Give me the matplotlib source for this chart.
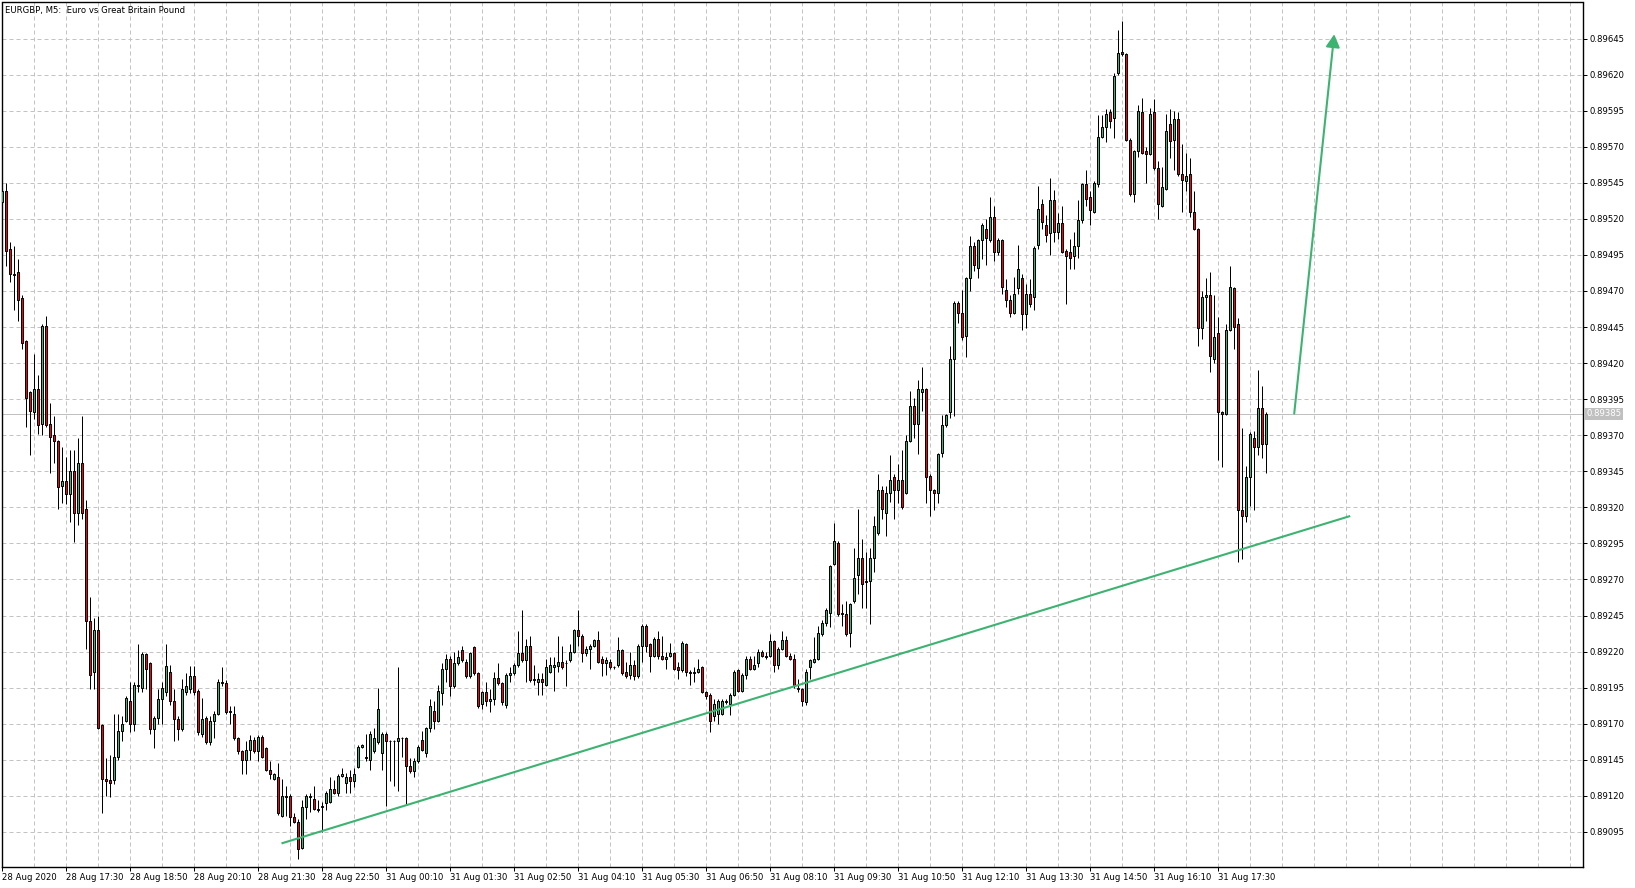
import matplotlib
matplotlib.use("Agg")
import matplotlib.pyplot as plt
import matplotlib.transforms as mtransforms
import numpy as np

W, H, DPI = 1635, 888, 100

title = "EURGBP, M5:  Euro vs Great Britain Pound"
time_labels = ["28 Aug 2020", "28 Aug 17:30", "28 Aug 18:50", "28 Aug 20:10", "28 Aug 21:30",
               "28 Aug 22:50", "31 Aug 00:10", "31 Aug 01:30", "31 Aug 02:50", "31 Aug 04:10",
               "31 Aug 05:30", "31 Aug 06:50", "31 Aug 08:10", "31 Aug 09:30", "31 Aug 10:50",
               "31 Aug 12:10", "31 Aug 13:30", "31 Aug 14:50", "31 Aug 16:10", "31 Aug 17:30"]
price_ticks = [0.89095, 0.89120, 0.89145, 0.89170, 0.89195, 0.89220, 0.89245, 0.89270, 0.89295,
               0.89320, 0.89345, 0.89370, 0.89395, 0.89420, 0.89445, 0.89470, 0.89495, 0.89520,
               0.89545, 0.89570, 0.89595, 0.89620, 0.89645]
current_price = 0.89385

opens = [
0.89532,0.89539,0.89499,0.89482,0.89483,0.89465,0.89435,0.89400,0.89386,0.89402,0.89378,0.89446,0.89378,0.89370,0.89366,0.89335,
0.89338,0.89329,0.89345,0.89316,0.89351,0.89319,0.89241,0.89206,0.89235,0.89169,0.89132,0.89131,0.89131,0.89147,0.89165,0.89172,
0.89186,0.89170,0.89196,0.89195,0.89218,0.89212,0.89166,0.89174,0.89187,0.89192,0.89206,0.89186,0.89173,0.89166,0.89192,0.89194,
0.89203,0.89193,0.89163,0.89174,0.89157,0.89172,0.89177,0.89199,0.89198,0.89178,0.89177,0.89160,0.89151,0.89145,0.89152,0.89159,
0.89151,0.89161,0.89153,0.89138,0.89132,0.89133,0.89106,0.89120,0.89120,0.89105,0.89102,0.89084,0.89112,0.89119,0.89118,0.89111,
0.89112,0.89115,0.89116,0.89125,0.89122,0.89134,0.89129,0.89133,0.89130,0.89140,0.89154,0.89147,0.89145,0.89151,0.89157,0.89150,
0.89163,0.89158,0.89158,0.89158,0.89160,0.89160,0.89141,0.89137,0.89144,0.89159,0.89150,0.89167,0.89179,0.89172,0.89191,0.89208,
0.89215,0.89196,0.89212,0.89221,0.89213,0.89203,0.89223,0.89205,0.89184,0.89192,0.89186,0.89187,0.89202,0.89198,0.89183,0.89204,
0.89205,0.89211,0.89219,0.89214,0.89224,0.89200,0.89199,0.89201,0.89197,0.89206,0.89209,0.89210,0.89213,0.89212,0.89214,0.89220,
0.89235,0.89231,0.89219,0.89222,0.89224,0.89228,0.89215,0.89212,0.89213,0.89209,0.89211,0.89221,0.89206,0.89204,0.89211,0.89203,
0.89224,0.89238,0.89225,0.89217,0.89229,0.89217,0.89215,0.89217,0.89219,0.89209,0.89207,0.89225,0.89206,0.89205,0.89206,0.89209,
0.89192,0.89190,0.89175,0.89177,0.89177,0.89185,0.89184,0.89190,0.89207,0.89193,0.89204,0.89215,0.89208,0.89212,0.89220,0.89217,
0.89217,0.89227,0.89211,0.89222,0.89228,0.89217,0.89215,0.89195,0.89194,0.89185,0.89209,0.89213,0.89215,0.89232,0.89240,0.89247,
0.89281,0.89295,0.89246,0.89246,0.89233,0.89255,0.89273,0.89285,0.89269,0.89269,0.89285,0.89302,0.89332,0.89316,0.89330,0.89341,
0.89332,0.89339,0.89330,0.89366,0.89390,0.89378,0.89400,0.89402,0.89342,0.89332,0.89330,0.89358,0.89377,0.89386,0.89423,0.89462,
0.89455,0.89439,0.89479,0.89501,0.89486,0.89505,0.89513,0.89505,0.89521,0.89497,0.89505,0.89471,0.89464,0.89455,0.89472,0.89479,
0.89454,0.89468,0.89466,0.89502,0.89530,0.89516,0.89510,0.89533,0.89511,0.89517,0.89498,0.89497,0.89494,0.89501,0.89519,0.89544,
0.89535,0.89525,0.89544,0.89577,0.89584,0.89594,0.89590,0.89621,0.89636,0.89634,0.89575,0.89537,0.89567,0.89594,0.89567,0.89565,
0.89594,0.89555,0.89529,0.89541,0.89586,0.89575,0.89589,0.89551,0.89546,0.89551,0.89525,0.89513,0.89444,0.89466,0.89467,0.89423,
0.89441,0.89386,0.89385,0.89443,0.89472,0.89447,0.89318,0.89314,0.89341,0.89368,0.89362,0.89389,0.89364]

highs = [
0.89539,0.89545,0.89504,0.89501,0.89492,0.89467,0.89436,0.89401,0.89426,0.89412,0.89447,0.89453,0.89392,0.89383,0.89367,0.89362,
0.89355,0.89360,0.89360,0.89368,0.89383,0.89325,0.89258,0.89243,0.89245,0.89170,0.89146,0.89148,0.89177,0.89177,0.89175,0.89189,
0.89199,0.89199,0.89225,0.89220,0.89219,0.89213,0.89175,0.89194,0.89199,0.89225,0.89211,0.89194,0.89175,0.89201,0.89205,0.89210,
0.89210,0.89194,0.89188,0.89175,0.89175,0.89179,0.89201,0.89209,0.89200,0.89182,0.89182,0.89161,0.89152,0.89158,0.89162,0.89161,
0.89162,0.89162,0.89154,0.89144,0.89136,0.89143,0.89132,0.89127,0.89121,0.89108,0.89104,0.89117,0.89121,0.89122,0.89127,0.89117,
0.89116,0.89123,0.89133,0.89131,0.89135,0.89139,0.89136,0.89138,0.89139,0.89155,0.89156,0.89163,0.89165,0.89167,0.89195,0.89164,
0.89164,0.89159,0.89159,0.89209,0.89161,0.89161,0.89146,0.89146,0.89155,0.89165,0.89168,0.89187,0.89186,0.89197,0.89212,0.89218,
0.89217,0.89220,0.89221,0.89224,0.89215,0.89220,0.89224,0.89206,0.89193,0.89199,0.89194,0.89206,0.89212,0.89199,0.89205,0.89209,
0.89212,0.89234,0.89249,0.89229,0.89231,0.89211,0.89205,0.89205,0.89215,0.89216,0.89216,0.89231,0.89224,0.89214,0.89225,0.89236,
0.89249,0.89232,0.89224,0.89225,0.89229,0.89234,0.89217,0.89216,0.89215,0.89210,0.89230,0.89222,0.89213,0.89220,0.89214,0.89225,
0.89239,0.89239,0.89226,0.89230,0.89234,0.89231,0.89220,0.89226,0.89220,0.89213,0.89227,0.89226,0.89207,0.89209,0.89215,0.89210,
0.89193,0.89191,0.89187,0.89187,0.89187,0.89187,0.89191,0.89207,0.89208,0.89205,0.89217,0.89217,0.89217,0.89222,0.89221,0.89220,
0.89232,0.89228,0.89223,0.89234,0.89231,0.89219,0.89218,0.89201,0.89195,0.89208,0.89215,0.89230,0.89238,0.89242,0.89250,0.89280,
0.89309,0.89297,0.89253,0.89255,0.89254,0.89292,0.89319,0.89298,0.89289,0.89292,0.89314,0.89343,0.89335,0.89335,0.89356,0.89343,
0.89350,0.89360,0.89370,0.89401,0.89396,0.89408,0.89417,0.89403,0.89343,0.89333,0.89358,0.89384,0.89385,0.89432,0.89463,0.89463,
0.89471,0.89480,0.89508,0.89504,0.89506,0.89517,0.89520,0.89535,0.89529,0.89507,0.89506,0.89478,0.89467,0.89480,0.89502,0.89482,
0.89475,0.89478,0.89501,0.89543,0.89534,0.89523,0.89548,0.89540,0.89524,0.89529,0.89499,0.89506,0.89511,0.89533,0.89545,0.89554,
0.89539,0.89546,0.89592,0.89592,0.89596,0.89596,0.89621,0.89651,0.89657,0.89635,0.89576,0.89568,0.89599,0.89604,0.89570,0.89597,
0.89603,0.89560,0.89556,0.89593,0.89596,0.89595,0.89594,0.89572,0.89566,0.89562,0.89539,0.89514,0.89470,0.89479,0.89483,0.89467,
0.89452,0.89387,0.89447,0.89487,0.89473,0.89451,0.89375,0.89349,0.89372,0.89373,0.89415,0.89404,0.89386]

lows = [
0.89527,0.89487,0.89476,0.89457,0.89449,0.89430,0.89376,0.89356,0.89381,0.89371,0.89370,0.89376,0.89344,0.89351,0.89319,0.89323,
0.89322,0.89310,0.89296,0.89308,0.89312,0.89222,0.89194,0.89194,0.89166,0.89108,0.89120,0.89119,0.89128,0.89145,0.89158,0.89171,
0.89164,0.89165,0.89192,0.89192,0.89194,0.89163,0.89153,0.89170,0.89170,0.89189,0.89183,0.89158,0.89159,0.89165,0.89190,0.89191,
0.89190,0.89162,0.89161,0.89156,0.89155,0.89160,0.89176,0.89196,0.89177,0.89170,0.89159,0.89149,0.89135,0.89135,0.89145,0.89150,
0.89144,0.89146,0.89137,0.89132,0.89131,0.89107,0.89105,0.89106,0.89099,0.89101,0.89076,0.89083,0.89104,0.89109,0.89110,0.89109,
0.89095,0.89110,0.89115,0.89121,0.89120,0.89133,0.89122,0.89122,0.89126,0.89139,0.89153,0.89144,0.89138,0.89150,0.89156,0.89138,
0.89113,0.89130,0.89127,0.89123,0.89147,0.89114,0.89136,0.89133,0.89143,0.89151,0.89147,0.89164,0.89166,0.89171,0.89183,0.89199,
0.89189,0.89195,0.89211,0.89213,0.89202,0.89202,0.89204,0.89181,0.89180,0.89182,0.89178,0.89183,0.89197,0.89183,0.89181,0.89199,
0.89204,0.89209,0.89213,0.89199,0.89199,0.89197,0.89190,0.89190,0.89196,0.89205,0.89193,0.89206,0.89208,0.89196,0.89213,0.89219,
0.89224,0.89213,0.89217,0.89208,0.89223,0.89212,0.89203,0.89204,0.89208,0.89208,0.89209,0.89204,0.89202,0.89201,0.89200,0.89202,
0.89213,0.89220,0.89206,0.89216,0.89215,0.89214,0.89208,0.89216,0.89207,0.89201,0.89206,0.89203,0.89197,0.89199,0.89205,0.89191,
0.89187,0.89164,0.89172,0.89170,0.89176,0.89184,0.89176,0.89189,0.89192,0.89192,0.89201,0.89207,0.89207,0.89209,0.89216,0.89215,
0.89216,0.89206,0.89208,0.89221,0.89216,0.89214,0.89195,0.89192,0.89182,0.89183,0.89201,0.89212,0.89214,0.89231,0.89238,0.89237,
0.89280,0.89245,0.89238,0.89231,0.89223,0.89254,0.89260,0.89250,0.89250,0.89239,0.89275,0.89301,0.89312,0.89300,0.89324,0.89312,
0.89323,0.89319,0.89329,0.89365,0.89368,0.89357,0.89387,0.89323,0.89314,0.89318,0.89323,0.89355,0.89376,0.89382,0.89383,0.89448,
0.89436,0.89424,0.89470,0.89484,0.89479,0.89492,0.89488,0.89504,0.89491,0.89495,0.89468,0.89459,0.89452,0.89454,0.89468,0.89443,
0.89444,0.89459,0.89457,0.89499,0.89513,0.89504,0.89495,0.89504,0.89506,0.89496,0.89461,0.89485,0.89485,0.89493,0.89517,0.89529,
0.89516,0.89524,0.89542,0.89576,0.89573,0.89583,0.89576,0.89620,0.89633,0.89574,0.89536,0.89532,0.89563,0.89565,0.89545,0.89564,
0.89554,0.89520,0.89528,0.89540,0.89562,0.89554,0.89550,0.89525,0.89539,0.89521,0.89512,0.89432,0.89437,0.89449,0.89414,0.89420,
0.89353,0.89348,0.89384,0.89442,0.89430,0.89282,0.89284,0.89310,0.89321,0.89318,0.89356,0.89354,0.89344]

closes = [
0.89539,0.89498,0.89482,0.89481,0.89464,0.89434,0.89396,0.89387,0.89402,0.89377,0.89446,0.89377,0.89369,0.89366,0.89334,0.89338,
0.89329,0.89345,0.89316,0.89351,0.89316,0.89241,0.89204,0.89235,0.89167,0.89132,0.89130,0.89129,0.89147,0.89165,0.89170,0.89188,
0.89170,0.89197,0.89197,0.89218,0.89208,0.89166,0.89174,0.89187,0.89195,0.89210,0.89186,0.89173,0.89166,0.89194,0.89196,0.89203,
0.89192,0.89164,0.89173,0.89157,0.89172,0.89177,0.89199,0.89198,0.89178,0.89179,0.89160,0.89151,0.89145,0.89152,0.89159,0.89151,
0.89161,0.89147,0.89138,0.89135,0.89135,0.89108,0.89120,0.89119,0.89105,0.89102,0.89083,0.89112,0.89120,0.89120,0.89111,0.89110,
0.89113,0.89122,0.89125,0.89122,0.89134,0.89135,0.89133,0.89130,0.89135,0.89154,0.89155,0.89146,0.89163,0.89160,0.89180,0.89163,
0.89158,0.89158,0.89158,0.89160,0.89160,0.89141,0.89137,0.89144,0.89154,0.89152,0.89167,0.89182,0.89172,0.89193,0.89208,0.89215,
0.89196,0.89212,0.89216,0.89214,0.89203,0.89219,0.89205,0.89182,0.89192,0.89186,0.89187,0.89202,0.89198,0.89185,0.89204,0.89205,
0.89211,0.89219,0.89214,0.89224,0.89200,0.89201,0.89201,0.89199,0.89209,0.89211,0.89211,0.89213,0.89209,0.89212,0.89220,0.89235,
0.89231,0.89219,0.89222,0.89224,0.89228,0.89213,0.89212,0.89214,0.89209,0.89209,0.89221,0.89205,0.89203,0.89211,0.89203,0.89224,
0.89238,0.89224,0.89217,0.89229,0.89217,0.89215,0.89216,0.89219,0.89208,0.89207,0.89226,0.89206,0.89205,0.89206,0.89208,0.89192,
0.89189,0.89172,0.89184,0.89186,0.89186,0.89186,0.89190,0.89206,0.89193,0.89204,0.89215,0.89208,0.89211,0.89220,0.89217,0.89216,
0.89227,0.89211,0.89222,0.89228,0.89217,0.89215,0.89197,0.89194,0.89186,0.89206,0.89214,0.89215,0.89233,0.89240,0.89249,0.89279,
0.89297,0.89246,0.89247,0.89232,0.89253,0.89271,0.89285,0.89267,0.89268,0.89285,0.89307,0.89332,0.89319,0.89330,0.89339,0.89332,
0.89339,0.89320,0.89366,0.89390,0.89378,0.89402,0.89402,0.89341,0.89332,0.89330,0.89357,0.89377,0.89384,0.89423,0.89462,0.89455,
0.89438,0.89479,0.89501,0.89488,0.89505,0.89516,0.89507,0.89521,0.89497,0.89505,0.89473,0.89464,0.89455,0.89468,0.89485,0.89454,
0.89468,0.89461,0.89500,0.89527,0.89518,0.89509,0.89533,0.89511,0.89517,0.89497,0.89494,0.89493,0.89501,0.89519,0.89544,0.89534,
0.89526,0.89545,0.89577,0.89584,0.89593,0.89588,0.89619,0.89635,0.89634,0.89575,0.89537,0.89567,0.89595,0.89566,0.89565,0.89593,
0.89555,0.89530,0.89542,0.89581,0.89574,0.89589,0.89551,0.89547,0.89550,0.89525,0.89513,0.89444,0.89466,0.89467,0.89425,0.89438,
0.89386,0.89385,0.89443,0.89473,0.89445,0.89318,0.89314,0.89341,0.89371,0.89362,0.89389,0.89364,0.89385]

# drawn objects (bar index, price)
trend_x = [69.8, 337.0]
trend_y = [0.89087, 0.89314]
arrow_from = (323.0, 0.89385)
arrow_to = (333.0, 0.89648)

assert len(opens) == len(highs) == len(lows) == len(closes)

GREEN = "#3cb371"
RED = "#ff0000"
GRID = "#c3c3c3"
FS = 6.1
PX = 72.0 / DPI  # one pixel in points

fig = plt.figure(figsize=(W / DPI, H / DPI), dpi=DPI)
fig.patch.set_facecolor("white")
ax = fig.add_axes([2 / W, 21.5 / H, 1581 / W, 864 / H])
ax.set_facecolor("white")

o = np.array(opens); h = np.array(highs); l = np.array(lows); c = np.array(closes)
x = np.arange(len(o))
ax.set_xlim(-0.075, 395.2)
ax.set_ylim(0.89071, 0.89670)

# grid
for gx in range(0, 400, 8):
    ax.axvline(gx, color=GRID, lw=PX, ls=(0, (4, 3)), zorder=0)
for py in price_ticks:
    ax.axhline(py, color=GRID, lw=PX, ls=(0, (4, 3)), zorder=0)

# current price line
ax.axhline(current_price, color="#c0c0c0", lw=PX, zorder=1)

# candles
ax.vlines(x, l, h, color="black", lw=PX, zorder=2)
up = c >= o
bottom = np.minimum(o, c)
height = np.maximum(np.abs(c - o), 0.0000001)
colors = [GREEN if u else RED for u in up]
ax.bar(x, height, width=0.5, bottom=bottom, color=colors, edgecolor="black",
       linewidth=PX, zorder=3)

# trend line and arrow
ax.plot(trend_x, trend_y, color=GREEN, lw=1.5, solid_capstyle="butt", zorder=4)
ax.annotate("", xy=arrow_to, xytext=arrow_from,
            arrowprops=dict(arrowstyle="-|>,head_length=0.55,head_width=0.3",
                            color=GREEN, lw=1.5, shrinkA=0, shrinkB=0,
                            mutation_scale=14), zorder=4)

# axes styling
for sp in ax.spines.values():
    sp.set_color("black")
    sp.set_linewidth(1.0)

ax.yaxis.tick_right()
ax.set_yticks(price_ticks)
ax.set_yticklabels([f"{p:.5f}" for p in price_ticks])
ax.tick_params(axis="y", direction="out", length=3, width=PX, pad=1.5,
               labelsize=FS, colors="black")

xt = [16 * i for i in range(len(time_labels))]
ax.set_xticks(xt)
ax.set_xticklabels(time_labels)
ax.tick_params(axis="x", direction="out", length=3, width=PX, pad=1.5,
               labelsize=FS, colors="black")
for lab in ax.get_xticklabels():
    lab.set_horizontalalignment("left")

# title
ax.text(3 / 1581, 1 - 3 / 864, title, transform=ax.transAxes, ha="left", va="top",
        fontsize=FS, color="black")

# current price label on the axis
trans = mtransforms.blended_transform_factory(ax.transAxes, ax.transData)
ax.text(1.0 + 3 / 1581, current_price, f"{current_price:.5f}", transform=trans,
        ha="left", va="center", fontsize=FS, color="white", clip_on=False,
        bbox=dict(boxstyle="square,pad=0.18", fc="#c0c0c0", ec="none"), zorder=6)

fig.savefig("out.png", dpi=DPI, facecolor="white")
